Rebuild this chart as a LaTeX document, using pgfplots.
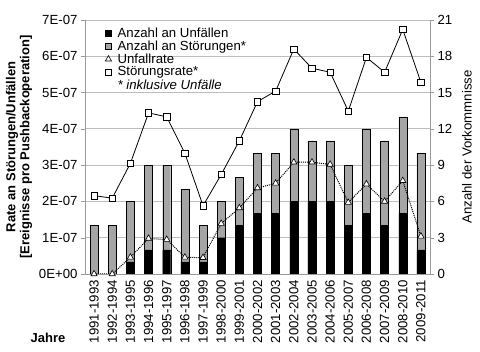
\documentclass[border=0pt]{standalone}
\usepackage{fontspec}
\setmainfont{Liberation Sans}
\usepackage{pgfplots}
\usepackage{pgfplotstable}
\pgfplotsset{compat=1.18}
\definecolor{barGrey}{HTML}{A5A5A5}
\definecolor{gridGrey}{HTML}{BDBDBD}
\definecolor{axGrey}{HTML}{9A9A9A}

\pgfplotstableread{
i st un ur sr
0 4 0 0 2.16e-7
1 4 0 0 2.09e-7
2 6 1 4.6e-8 3.05e-7
3 9 2 9.8e-8 4.44e-7
4 9 2 9.5e-8 4.33e-7
5 7 1 4.6e-8 3.33e-7
6 4 1 4.5e-8 1.88e-7
7 6 3 1.39e-7 2.74e-7
8 8 4 1.82e-7 3.67e-7
9 10 5 2.37e-7 4.75e-7
10 10 5 2.50e-7 5.04e-7
11 12 6 3.08e-7 6.20e-7
12 11 6 3.08e-7 5.67e-7
13 11 6 3.02e-7 5.56e-7
14 9 4 1.97e-7 4.49e-7
15 12 5 2.48e-7 5.97e-7
16 11 4 2.00e-7 5.56e-7
17 13 5 2.57e-7 6.74e-7
18 10 2 1.04e-7 5.28e-7
}\data

\begin{document}
\begin{tikzpicture}[font=\fontsize{13.2}{15}\selectfont]
\begin{axis}[
  scale only axis, width=345pt, height=254pt,
  xmin=-0.5, xmax=18.5, ymin=0, ymax=21,
  axis y line*=right, axis x line*=bottom,
  ytick={0,3,...,21},
  /pgf/number format/assume math mode=true,
  ymajorgrids, grid style={draw=gridGrey, line width=0.8pt},
  xtick={0,...,18},
  xticklabels={1991-1993,1992-1994,1993-1995,1994-1996,1995-1997,1996-1998,1997-1999,1998-2000,1999-2001,2000-2002,2001-2003,2002-2004,2003-2005,2004-2006,2005-2007,2006-2008,2007-2009,2008-2010,2009-2011},
  xticklabel style={rotate=90, anchor=east, inner sep=2pt},
  major x tick style={draw=none},
  extra x ticks={-0.5,0.5,...,18.5},
  extra x tick labels={},
  extra x tick style={grid=none, tick style={draw=axGrey}},
  major tick length=4pt,
  tick align=outside,
  ytick style={draw=axGrey},
  axis line style={draw=axGrey, line width=0.8pt},
  ylabel={Anzahl der Vorkommnisse},
  ylabel style={font=\fontsize{13.2}{15}\selectfont, yshift=-3pt},
]
\addplot[ybar, bar width=8pt, bar shift=0pt, fill=barGrey, draw=black] table[x=i,y=st]{\data};
\addplot[ybar, bar width=8pt, bar shift=0pt, fill=black, draw=black] table[x=i,y=un]{\data};
\end{axis}
\begin{axis}[
  scale only axis, width=345pt, height=254pt,
  xmin=-0.5, xmax=18.5, ymin=0, ymax=7e-7,
  scaled y ticks=false,
  axis y line*=left, axis x line=none,
  ytick={0,1e-7,2e-7,3e-7,4e-7,5e-7,6e-7,7e-7},
  yticklabels={0E+00,1E-07,2E-07,3E-07,4E-07,5E-07,6E-07,7E-07},
  major tick length=4pt,
  tick align=outside,
  ytick style={draw=axGrey},
  axis line style={draw=axGrey, line width=0.8pt},
  ylabel={Rate an Störungen/Unfällen\\{}[Ereignisse pro Pushbackoperation]},
  ylabel style={align=center, font=\fontsize{13}{14}\selectfont\bfseries},
  legend style={at={(0.055,0.975)}, anchor=north west, draw=none, fill=none,
    legend cell align=left, row sep=0pt, inner sep=0pt,
    nodes={inner sep=1pt}},
  legend image code/.code={\draw[#1] plot coordinates {(0.15cm,0cm)};\path (0.42cm,0cm);},
]
\addlegendimage{legend image code/.code={\draw[fill=black, draw=black] (0.04cm,-0.11cm) rectangle (0.26cm,0.11cm);\path (0.34cm,0cm);}}
\addlegendentry{Anzahl an Unfällen}
\addlegendimage{legend image code/.code={\draw[fill=barGrey, draw=black] (0.04cm,-0.11cm) rectangle (0.26cm,0.11cm);\path (0.42cm,0cm);}}
\addlegendentry{Anzahl an Störungen*}
\addplot[black, densely dotted, line width=1pt, mark=triangle*, mark size=3.6pt, mark options={solid, fill=white, line width=0.6pt}] table[x=i,y=ur]{\data};
\addlegendentry{Unfallrate}
\addplot[black, line width=0.8pt, mark=square*, mark size=3.2pt, mark options={solid, fill=white, line width=0.6pt}] table[x=i,y=sr]{\data};
\addlegendentry{Störungsrate*}
\addlegendimage{empty legend}
\addlegendentry{\itshape * inklusive Unfälle}
\end{axis}
\node[font=\fontsize{13}{15}\selectfont\bfseries] at (-37pt,-64pt) {Jahre};
\pgfresetboundingbox
\path[use as bounding box] (-85pt,-78pt) rectangle (395pt,274pt);
\end{tikzpicture}
\end{document}
